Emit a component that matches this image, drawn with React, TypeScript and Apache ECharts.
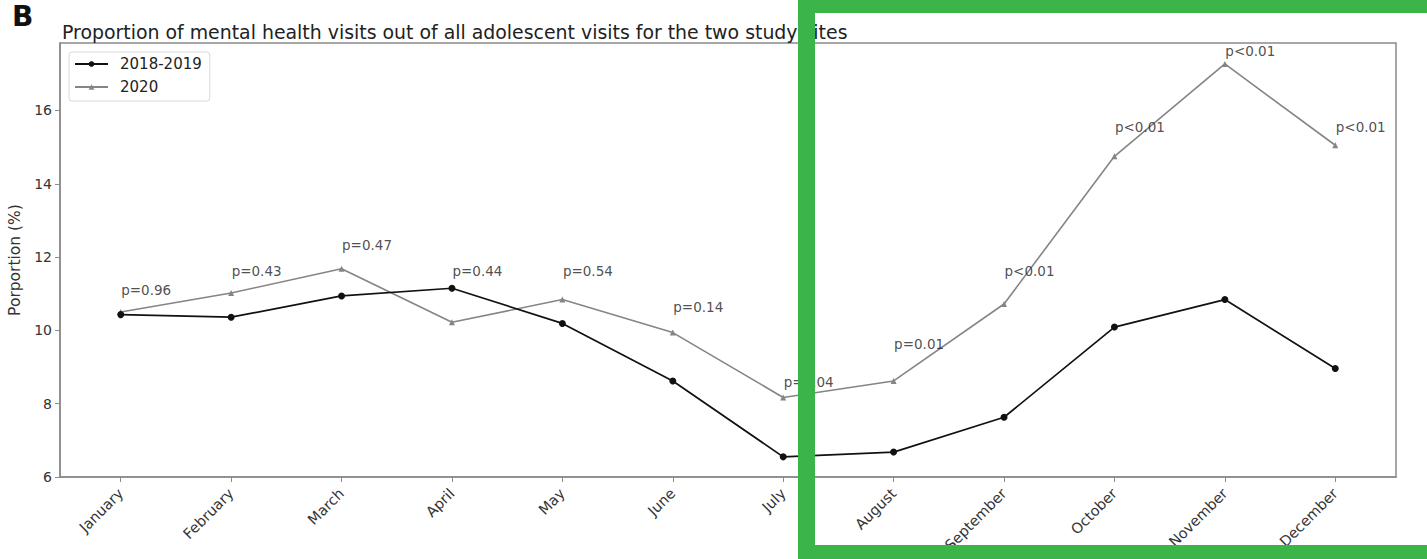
import React, { useEffect, useRef } from "react";
import * as echarts from "echarts";

const months = [
  "January", "February", "March", "April", "May", "June",
  "July", "August", "September", "October", "November", "December",
];
const series2018 = [10.43, 10.36, 10.94, 11.15, 10.19, 8.62, 6.55, 6.68, 7.63, 10.09, 10.84, 8.96];
const series2020 = [10.5, 11.02, 11.68, 10.22, 10.84, 9.94, 8.17, 8.62, 10.72, 14.75, 17.27, 15.05];
const pLabels = [
  "p=0.96", "p=0.43", "p=0.47", "p=0.44", "p=0.54", "p=0.14",
  "p=0.04", "p=0.01", "p<0.01", "p<0.01", "p<0.01", "p<0.01",
];
const pLabelY = [11.11, 11.61, 12.34, 11.63, 11.63, 10.63, 8.6, 9.63, 11.63, 15.56, 17.61, 15.56];
const yTicks = [6, 8, 10, 12, 14, 16];
const xTicks = months.map((_, i) => i);

const FONT = "DejaVu Sans";
const GREEN = "#3bb54a";

export default function App() {
  const ref = useRef<HTMLDivElement>(null);
  useEffect(() => {
    if (!ref.current) return;
    const chart = echarts.init(ref.current, null, { renderer: "svg" });
    chart.setOption({
      animation: false,
      backgroundColor: "#ffffff",
      textStyle: { fontFamily: FONT },
      grid: {
        left: 60,
        right: 31,
        top: 43,
        bottom: 82,
        show: true,
        borderColor: "#8a8a8a",
        borderWidth: 1.5,
        outerBoundsMode: "none",
        containLabel: false,
      },
      legend: {
        data: ["2018-2019", "2020"],
        orient: "vertical",
        left: 69,
        top: 52,
        padding: [4, 8, 6, 5],
        itemWidth: 33,
        itemHeight: 7,
        itemGap: 7,
        borderColor: "#d8d8d8",
        borderWidth: 1,
        borderRadius: 3,
        backgroundColor: "#ffffff",
        textStyle: {
          fontFamily: FONT,
          fontSize: 15,
          color: "#222",
          lineHeight: 16,
          padding: [0, 0, 0, 7],
        },
      },
      xAxis: {
        type: "value",
        min: -0.55,
        max: 11.55,
        splitLine: { show: false },
        axisLine: { show: true, onZero: false, lineStyle: { color: "#8a8a8a", width: 1.5 } },
        axisTick: {
          show: true,
          customValues: xTicks,
          length: 5,
          lineStyle: { color: "#8a8a8a" },
        },
        axisLabel: {
          customValues: xTicks,
          formatter: (v: number) => months[Math.round(v)] ?? "",
          rotate: 45,
          margin: 14,
          fontFamily: FONT,
          fontSize: 14.5,
          color: "#333",
        },
      },
      yAxis: {
        type: "value",
        min: 6,
        max: 17.84,
        name: "Porportion (%)",
        nameLocation: "middle",
        nameGap: 33,
        nameTextStyle: { fontFamily: FONT, fontSize: 15.5, color: "#333" },
        splitLine: { show: false },
        axisLine: { show: true, onZero: false, lineStyle: { color: "#8a8a8a", width: 1.5 } },
        axisTick: {
          show: true,
          customValues: yTicks,
          length: 5,
          lineStyle: { color: "#8a8a8a" },
        },
        axisLabel: {
          customValues: yTicks,
          margin: 8,
          fontFamily: FONT,
          fontSize: 14,
          color: "#333",
        },
      },
      series: [
        {
          name: "2018-2019",
          type: "line",
          data: series2018.map((v, i) => [i, v]),
          symbol: "circle",
          symbolSize: 7,
          lineStyle: { color: "#111", width: 1.7 },
          itemStyle: { color: "#111" },
          z: 3,
        },
        {
          name: "2020",
          type: "line",
          data: series2020.map((v, i) => [i, v]),
          symbol: "triangle",
          symbolSize: 6,
          lineStyle: { color: "#858585", width: 1.6 },
          itemStyle: { color: "#858585" },
          z: 2,
        },
        {
          name: "pvalues",
          type: "scatter",
          data: pLabelY.map((v, i) => [i, v]),
          symbolSize: 1,
          itemStyle: { color: "transparent" },
          silent: true,
          label: {
            show: true,
            position: "right",
            distance: 0,
            formatter: (p: any) => pLabels[p.dataIndex],
            fontFamily: FONT,
            fontSize: 13.5,
            color: "#222",
          },
          z: 4,
        },
      ],
      graphic: [
        {
          type: "text",
          left: 12,
          top: 2,
          style: {
            text: "B",
            fontFamily: FONT,
            fontWeight: "bold",
            fontSize: 28,
            fill: "#111",
          },
        },
        {
          type: "text",
          x: 62,
          y: 32,
          style: {
            text: "Proportion of mental health visits out of all adolescent visits for the two study sites",
            fontFamily: FONT,
            fontSize: 18.9,
            fill: "#222",
            verticalAlign: "middle",
          },
        },
        {
          type: "rect",
          z: 100,
          shape: { x: 798, y: 0, width: 17, height: 559 },
          style: { fill: GREEN },
        },
        {
          type: "rect",
          z: 100,
          shape: { x: 798, y: 0, width: 629, height: 13 },
          style: { fill: GREEN },
        },
        {
          type: "rect",
          z: 100,
          shape: { x: 798, y: 545, width: 629, height: 14 },
          style: { fill: GREEN },
        },
      ],
    });
    return () => chart.dispose();
  }, []);
  return (
    <div
      ref={ref}
      style={{ position: "absolute", left: 0, top: 0, width: 1427, height: 559 }}
    />
  );
}
